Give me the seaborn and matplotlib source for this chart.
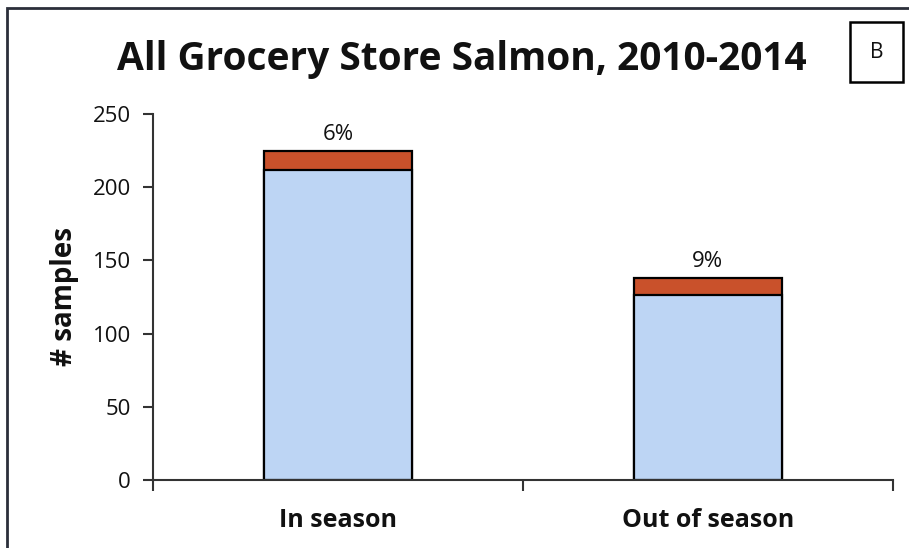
import numpy as np
import pandas as pd
import matplotlib.pyplot as plt
import seaborn as sns
from matplotlib.patches import Rectangle

# values
categories = ["In season", "Out of season"]
blue_counts = [212, 126]
red_counts = [13, 12]
pct_labels = ["6%", "9%"]
yticks = [0, 50, 100, 150, 200, 250]

df = pd.DataFrame({"season": categories, "blue": blue_counts, "red": red_counts})
df["total"] = df["blue"] + df["red"]

sns.set_style("white")
plt.rcParams["font.family"] = ["Open Sans", "DejaVu Sans"]
plt.rcParams["text.color"] = "#111111"
plt.rcParams["xtick.color"] = "#111111"
plt.rcParams["ytick.color"] = "#111111"
plt.rcParams["axes.labelcolor"] = "#111111"

fig = plt.figure(figsize=(9.09, 5.48), dpi=100)
ax = fig.add_axes([0.1683, 0.1241, 0.814, 0.668])

# stacked bars: draw total in red, then blue part over it
sns.barplot(data=df, x="season", y="total", color="#C9512B", saturation=1,
            width=0.4, edgecolor="black", linewidth=1.6, ax=ax)
sns.barplot(data=df, x="season", y="blue", color="#BDD5F4", saturation=1,
            width=0.4, edgecolor="black", linewidth=1.6, ax=ax)

for i, (tot, lab) in enumerate(zip(df["total"], pct_labels)):
    ax.text(i, tot + 4, lab, ha="center", va="bottom", fontsize=16)

ax.set_xlim(-0.5, 1.5)
ax.set_ylim(0, 250)
ax.set_yticks(yticks)
ax.set_xticks([-0.5, 0.5, 1.5], minor=False)
ax.set_xticklabels(["", "", ""])
ax.set_xticks([0, 1], minor=True)
ax.set_xticklabels(categories, minor=True, fontsize=18, fontweight="bold")
ax.tick_params(axis="x", which="minor", bottom=False, length=0, pad=20)
ax.tick_params(axis="x", which="major", bottom=True, direction="out", length=8, width=1.5, color="#333333")
ax.tick_params(axis="y", left=True, direction="out", length=7, width=1.5, color="#333333", labelsize=16, pad=9)
ax.set_xlabel("")
ax.set_ylabel("# samples", fontsize=20, fontweight="bold", labelpad=10)

sns.despine(ax=ax, top=True, right=True)
for s in ["left", "bottom"]:
    ax.spines[s].set_linewidth(1.5)
    ax.spines[s].set_color("#333333")

fig.text(0.508, 0.892, "All Grocery Store Salmon, 2010-2014", ha="center", va="center",
         fontsize=28, fontweight="bold")
fig.text(0.964, 0.905, "B", ha="center", va="center", fontsize=15,
         bbox=dict(boxstyle="square,pad=0.95", facecolor="white", edgecolor="black", linewidth=1.8))

# outer frame (only left and top edges visible in the scan)
fig.add_artist(Rectangle((0.008, -0.05), 1.2, 1.035, transform=fig.transFigure,
                         fill=False, edgecolor="#2b2f3a", linewidth=2))

fig.savefig("out.png", dpi=100)
